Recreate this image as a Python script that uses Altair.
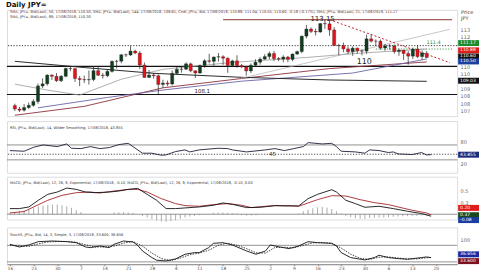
import altair as alt
import pandas as pd

# ---------------- data ----------------
week_labels = ["16", "23", "30", "7", "14", "21", "28", "4", "11", "18",
               "25", "2", "9", "16", "23", "30", "6", "13", "20"]

opens = [107.35, 107.12, 107.04, 107.22, 107.37, 107.63, 108.68, 108.82, 109.41, 109.33,
         109.03, 109.33, 109.86, 109.85, 109.18, 109.11, 109.09, 109.11, 109.71, 109.40,
         109.37, 109.66, 110.34, 110.35, 110.78, 110.77, 111.03, 110.90, 110.09, 109.25,
         109.42, 109.37, 108.78, 108.87, 108.81, 109.53, 109.80, 109.81, 110.17, 109.70,
         109.55, 110.06, 110.38, 110.34, 110.63, 110.65, 110.55, 110.06, 110.37, 110.05,
         109.97, 109.69, 110.08, 110.28, 110.49, 110.66, 110.87, 110.52, 110.49, 110.63,
         110.47, 110.83, 111.00, 112.04, 112.52, 112.36, 112.32, 112.89, 112.87, 112.46,
         111.41, 111.40, 111.18, 110.99, 111.23, 111.05, 111.03, 111.86, 111.70, 111.70,
         111.24, 111.38, 111.38, 111.00, 111.09, 110.87, 110.69, 111.17, 110.66, 110.88]
highs = [107.48, 107.27, 107.45, 107.56, 107.78, 108.84, 109.19, 109.47, 109.47, 109.55,
         109.42, 109.91, 110.03, 109.87, 109.35, 109.38, 109.72, 110.02, 110.00, 109.56,
         109.78, 110.40, 110.44, 110.84, 110.86, 111.40, 111.13, 111.03, 110.26, 109.76,
         109.56, 109.46, 109.10, 109.04, 109.73, 109.98, 109.97, 110.27, 110.25, 109.73,
         110.13, 110.48, 110.85, 110.67, 110.90, 110.75, 110.60, 110.45, 110.75, 110.17,
         110.00, 110.20, 110.48, 110.62, 110.82, 111.00, 111.05, 110.63, 110.75, 110.70,
         110.87, 111.06, 112.08, 112.80, 112.63, 112.55, 112.92, 113.13, 113.15, 112.65,
         111.52, 111.61, 111.35, 111.35, 111.27, 111.14, 112.15, 112.15, 111.82, 111.81,
         111.52, 111.50, 111.47, 111.20, 111.12, 111.04, 111.27, 111.43, 111.08, 111.04]
lows = [106.98, 106.92, 106.95, 107.12, 107.27, 107.47, 108.53, 108.70, 109.08, 108.95,
        108.94, 109.26, 109.67, 108.95, 108.66, 108.88, 108.77, 109.00, 109.35, 109.17,
        109.27, 109.58, 109.86, 110.21, 110.63, 110.70, 110.82, 109.82, 109.25, 109.22,
        109.17, 108.11, 108.55, 108.66, 108.71, 109.46, 109.57, 109.75, 109.60, 109.20,
        109.50, 109.90, 110.20, 109.99, 110.32, 110.10, 109.56, 110.02, 109.90, 109.88,
        109.37, 109.55, 109.98, 110.11, 110.44, 110.48, 110.35, 110.35, 110.27, 110.28,
        110.35, 110.78, 110.88, 111.89, 112.25, 112.08, 112.26, 112.53, 112.06, 111.37,
        110.75, 110.95, 110.84, 110.71, 110.87, 110.75, 110.85, 111.62, 111.38, 111.13,
        111.05, 111.12, 110.86, 110.72, 110.43, 110.11, 110.49, 110.56, 110.45, 110.55]
closes = [107.12, 107.04, 107.22, 107.37, 107.63, 108.68, 108.82, 109.41, 109.33, 109.03,
          109.33, 109.86, 109.85, 109.18, 109.11, 109.09, 109.11, 109.71, 109.40, 109.37,
          109.66, 110.34, 110.35, 110.78, 110.77, 111.03, 110.90, 110.09, 109.25, 109.42,
          109.37, 108.78, 108.87, 108.81, 109.53, 109.80, 109.81, 110.17, 109.70, 109.55,
          110.06, 110.38, 110.34, 110.63, 110.65, 110.55, 110.06, 110.37, 110.05, 109.97,
          109.69, 110.08, 110.28, 110.49, 110.66, 110.87, 110.52, 110.49, 110.63, 110.47,
          110.83, 111.00, 112.04, 112.52, 112.36, 112.32, 112.89, 112.87, 112.46, 111.41,
          111.40, 111.18, 110.99, 111.23, 111.05, 111.03, 111.86, 111.70, 111.70, 111.24,
          111.38, 111.38, 111.00, 111.09, 110.87, 110.69, 111.17, 110.66, 110.91, 110.60]

# moving averages (sparse readings: candle index, price)
ma_black_i = [0, 15, 30, 49, 68, 89]
ma_black_p = [110.34, 109.92, 109.53, 109.26, 109.08, 108.99]
ma_gray_i = [0, 7, 14, 23, 32, 47, 63, 75, 89]
ma_gray_p = [108.80, 108.40, 108.06, 109.13, 109.80, 110.27, 110.60, 110.90, 111.17]
ma_maroon_i = [0, 15, 32, 49, 68, 89]
ma_maroon_p = [106.70, 107.30, 108.55, 109.18, 109.85, 110.30]
ma_purple_i = [5, 20, 32, 49, 73, 89]
ma_purple_p = [107.20, 107.90, 108.40, 109.00, 109.55, 110.50]
trend_gray_i = [49, 94]
trend_gray_p = [109.20, 112.50]
trend_red_i = [68, 94]
trend_red_p = [113.15, 110.25]

levels_full = [110.0, 108.1]
level_dotted = 111.4
level_top = 113.15
level_green = 111.17

# RSI (index, value)
rsi_i = [0, 3, 5, 7, 10, 12, 13, 15, 17, 19, 21, 23, 25, 26, 28, 30, 32, 33, 35, 37, 38, 40,
         44, 46, 47, 50, 54, 56, 58, 60, 62, 63, 66, 68, 69, 70, 73, 75, 76, 78, 80, 81, 82,
         85, 87, 88, 89]
rsi_v = [54.9, 53.1, 63.8, 70.0, 65.6, 72.7, 61.1, 60.2, 65.6, 60.2, 62.9, 70.9, 74.4, 65.6,
         47.8, 47.8, 42.4, 43.3, 52.2, 56.7, 51.3, 56.7, 61.1, 60.2, 56.7, 51.3, 56.7, 60.2,
         54.9, 60.2, 65.6, 76.2, 72.7, 74.4, 65.6, 53.1, 51.3, 47.8, 56.7, 54.9, 49.6, 51.3,
         46.0, 44.2, 49.6, 43.3, 43.9]

# MACD
macd_i = [0, 2, 4, 6, 8, 10, 12, 14, 16, 18, 21, 23, 25, 27, 29, 31, 33, 35, 37, 40, 43, 45,
          47, 50, 53, 56, 58, 61, 63, 65, 68, 69, 71, 73, 75, 78, 81, 84, 87, 89]
macd_v = [0.119, 0.119, 0.154, 0.294, 0.420, 0.469, 0.553, 0.525, 0.469, 0.455, 0.469, 0.490,
          0.525, 0.546, 0.420, 0.294, 0.119, 0.119, 0.133, 0.154, 0.189, 0.238, 0.210, 0.140,
          0.147, 0.182, 0.175, 0.175, 0.329, 0.420, 0.518, 0.469, 0.294, 0.224, 0.147, 0.168,
          0.119, 0.063, 0.014, -0.042]
sig_i = [0, 3, 5, 8, 11, 14, 17, 19, 22, 25, 27, 29, 32, 35, 37, 40, 43, 46, 49, 51, 54, 56,
         59, 61, 63, 65, 68, 71, 74, 77, 80, 82, 85, 88, 89]
sig_v = [0.028, 0.056, 0.154, 0.294, 0.399, 0.455, 0.469, 0.448, 0.490, 0.525, 0.525, 0.469,
         0.329, 0.224, 0.182, 0.168, 0.203, 0.224, 0.189, 0.140, 0.168, 0.182, 0.182, 0.168,
         0.238, 0.308, 0.392, 0.385, 0.308, 0.245, 0.203, 0.154, 0.084, 0.028, -0.014]
hist_v = [0.028, 0.049, 0.070, 0.084, 0.105, 0.140, 0.161, 0.182, 0.196, 0.203,
          0.203, 0.189, 0.168, 0.133, 0.084, 0.042, 0.0, 0.0, 0.0, 0.0,
          0.0, 0.0, 0.035, 0.042, 0.042, 0.035, 0.028, 0.0, -0.042, -0.070,
          -0.105, -0.133, -0.154, -0.161, -0.147, -0.126, -0.098, -0.070, -0.049, -0.035,
          -0.021, -0.007, -0.007, 0.028, 0.035, 0.035, 0.028, 0.021, 0.014, -0.021,
          -0.028, -0.028, -0.021, 0.0, 0.0, 0.0, 0.0, 0.0, 0.0, 0.0,
          0.0, 0.014, 0.063, 0.098, 0.126, 0.147, 0.154, 0.140, 0.112, 0.063,
          0.014, -0.035, -0.063, -0.084, -0.098, -0.098, -0.084, -0.077, -0.070, -0.070,
          -0.063, -0.056, -0.049, -0.042, -0.042, -0.035, -0.035, -0.028, -0.021, -0.014]

# Stochastic
k_i = [0, 2, 4, 6, 9, 12, 14, 16, 17, 19, 21, 22, 24, 26, 27, 28, 30, 31, 33, 35, 37, 39, 40,
       42, 43, 45, 47, 50, 52, 54, 55, 57, 59, 61, 63, 65, 68, 69, 70, 72, 75, 77, 78, 80, 82,
       84, 87, 88, 89]
k_v = [83.6, 74.0, 81.2, 93.2, 95.6, 93.2, 89.6, 74.0, 71.6, 77.6, 71.6, 83.6, 95.6, 92.0,
       80.0, 59.6, 35.6, 26.0, 23.6, 30.8, 47.6, 53.6, 53.6, 71.6, 87.2, 89.6, 81.2, 59.6,
       47.6, 59.6, 81.2, 74.0, 68.0, 77.6, 93.2, 89.6, 87.2, 77.6, 53.6, 35.6, 27.2, 35.6,
       44.0, 35.6, 32.0, 29.6, 35.6, 38.0, 35.6]
d_i = [0, 2, 4, 6, 8, 10, 12, 14, 16, 18, 20, 22, 24, 26, 28, 30, 32, 34, 36, 38, 40, 42, 44,
       46, 48, 50, 52, 54, 56, 58, 60, 62, 64, 66, 68, 70, 72, 74, 76, 78, 80, 82, 84, 86, 88, 89]
d_v = [80, 78, 76, 85, 92, 94, 94, 91, 82, 74, 74, 77, 88, 94, 77, 52, 32, 25, 34, 46, 52, 62,
       80, 88, 80, 68, 53, 52, 72, 73, 71, 80, 89, 90, 87, 70, 48, 33, 29, 37, 38, 34, 31, 31,
       35, 36]

# ---------------- layout constants ----------------
W = 453
XDOM = [-0.63, 94.5]
FONT = "DejaVu Sans"
XS = alt.Scale(domain=XDOM, nice=False, zero=False)


def right_axis(values, fmt="~f"):
    return alt.Axis(orient="right", values=values, format=fmt, labelFontSize=5,
                    labelColor="#666", ticks=False, domain=False, grid=False, title=None,
                    labelPadding=3, labelFont=FONT)


def series(iv, pv):
    return pd.DataFrame({"i": iv, "p": pv})


def label(text, x, y, size=4.5, color="#333", baseline="middle"):
    return alt.Chart(pd.DataFrame({"t": [text]})).mark_text(
        align="left", baseline=baseline, fontSize=size, font=FONT, color=color).encode(
        x=alt.value(x), y=alt.value(y), text="t:N")


class Panel:
    """Shared x / y encodings for one stacked panel."""

    def __init__(self, ydom, height, yticks, fmt="~f", xaxis=None):
        self.Y = alt.Scale(domain=ydom, nice=False, zero=False)
        self.unit = (ydom[1] - ydom[0]) / float(height)
        self.yaxis = right_axis(yticks, fmt)
        self.xaxis = xaxis
        self.height = height

    def x(self, f="i:Q"):
        return alt.X(f, scale=XS, axis=self.xaxis)

    def y(self, f):
        return alt.Y(f, scale=self.Y, axis=self.yaxis)

    def hline(self, values, color, width=0.8, dash=None):
        kw = dict(color=color, strokeWidth=width)
        if dash:
            kw["strokeDash"] = dash
        return alt.Chart(pd.DataFrame({"p": values})).mark_rule(**kw).encode(y=self.y("p:Q"))

    def line(self, iv, pv, color, width=0.9, dash=None):
        kw = dict(color=color, strokeWidth=width)
        if dash:
            kw["strokeDash"] = dash
        return alt.Chart(series(iv, pv)).mark_line(**kw).encode(x=self.x(), y=self.y("p:Q"))

    def text(self, i, p, t, size, color="#222", baseline="bottom", dy=-0.5):
        return alt.Chart(pd.DataFrame({"i": [i], "p": [p], "t": [t]})).mark_text(
            font=FONT, color=color, baseline=baseline, dy=dy, align="center",
            fontSize=size).encode(x=self.x(), y=self.y("p:Q"), text="t:N")

    def box(self, value, text, color, shift, tcolor="white"):
        u = self.unit
        d = pd.DataFrame({"v": [value], "t": [text]})
        base = alt.Chart(d).transform_calculate(
            c="datum.v - %f" % (shift * u),
            lo="datum.v - %f" % ((shift + 3) * u),
            hi="datum.v - %f" % ((shift - 3) * u))
        r = base.mark_rect(color=color).encode(
            x=alt.value(W + 1), x2=alt.value(W + 22), y=self.y("lo:Q"), y2="hi:Q")
        t = base.mark_text(fontSize=4.5, font=FONT, color=tcolor, align="left",
                           baseline="middle").encode(
            x=alt.value(W + 3), y=self.y("c:Q"), text="t:N")
        return [r, t]


# ---------------- main panel ----------------
P = Panel([106.64, 113.82], 107,
          [107, 107.5, 108, 108.5, 109.5, 110, 112, 112.5])
cdf = pd.DataFrame({"i": list(range(len(closes))), "o": opens, "h": highs, "l": lows,
                    "c": closes})

hl_top = alt.Chart(pd.DataFrame({"i": [45], "i2": [94.5], "p": [level_top]})).mark_rule(
    color="#7a1a1a", strokeWidth=0.9).encode(x=P.x(), x2="i2:Q", y=P.y("p:Q"))
hl_green = alt.Chart(pd.DataFrame({"i": [78], "i2": [94.5], "p": [level_green]})).mark_rule(
    color="#2e8b3a", strokeWidth=0.9, strokeDash=[1.2, 1.6]).encode(
    x=P.x(), x2="i2:Q", y=P.y("p:Q"))

wick = alt.Chart(cdf).mark_rule(color="#222", strokeWidth=0.7).encode(
    x=P.x(), y=P.y("l:Q"), y2="h:Q")
body = alt.Chart(cdf).mark_bar(size=3.2, stroke="#1a1a1a", strokeWidth=0.3).encode(
    x=P.x(), y=P.y("o:Q"), y2="c:Q",
    color=alt.condition(alt.datum.c >= alt.datum.o, alt.value("#123d1f"), alt.value("#e3121b")))

main_layers = [
    P.hline(levels_full, "#111", 1.1),
    P.hline([level_dotted], "#222", 0.9, [1.2, 1.6]),
    hl_top, hl_green,
    P.line(ma_maroon_i, ma_maroon_p, "#8b2f3a"),
    P.line(ma_purple_i, ma_purple_p, "#6b63a8"),
    P.line(ma_gray_i, ma_gray_p, "#9a9a9a", 0.8),
    P.line(ma_black_i, ma_black_p, "#2a2a2a", 1.0),
    P.line(trend_gray_i, trend_gray_p, "#b0b0b0", 0.7),
    P.line(trend_red_i, trend_red_p, "#c0282c", 1.0, [2, 2]),
    wick, body,
    P.text(66.5, 113.15, "113.15", 7, baseline="middle", dy=-1),
    P.text(75.5, 110.0, "110", 8),
    P.text(40.5, 108.1, "108.1", 5.5),
    P.text(90.5, 111.4, "111.4", 5, "#2e8b3a"),
    label("SMA, JPY=, Bid(Last), 50, 17/08/2018, 110.50, SMA, JPY=, Bid(Last), 144, 17/08/2018, "
          "109.61, Cndl, JPY=, Bid, 17/08/2018, 110.88, 111.04, 110.55, 110.60, -0.18 (-0.17%), "
          "SMA, JPY=, Bid(Last), 21, 17/08/2018, 111.17", 3, 2.5, 3.6, "#5a2a2a"),
    label("SMA, JPY=, Bid(Last), 89, 17/08/2018, 110.30", 3, 7.5, 3.6, "#333"),
    label("Price", W + 4, 0.5, 5, "#333", "top"),
    label("JPY", W + 4, 6, 5, "#333", "top"),
]
main_layers += P.box(111.17, "111.17", "#1e8a2e", -6)
main_layers += P.box(110.88, "110.88", "#e01b1b", -3)
main_layers += P.box(110.60, "110.60", "#111111", -1)
main_layers += P.box(110.50, "110.50", "#1b3f9e", 2.5)
main_layers += P.box(109.03, "109.03", "#111111", 0)
main = alt.layer(*main_layers).properties(width=W, height=P.height)

# ---------------- RSI panel ----------------
R = Panel([-4.67, 134], 52, [20, 80])
rsi_layers = [
    R.hline([70, 30], "#777"),
    R.hline([45], "#222", 0.8, [1.2, 1.6]),
    R.line(rsi_i, rsi_v, "#1c1c3a"),
    R.text(55.5, 45, "45", 5.5, "#333", "middle"),
    label("RSI, JPY=, Bid(Last), 14, Wilder Smoothing, 17/08/2018, 43.855", 3, 7, 3.6),
]
rsi_layers += R.box(43.855, "43.855", "#1b2a7a", 0)
rsi = alt.layer(*rsi_layers).properties(width=W, height=R.height)

# ---------------- MACD panel ----------------
M = Panel([-0.111, 0.792], 43, [0.25, 0.5])
hdf = pd.DataFrame({"i": list(range(len(hist_v))), "v": hist_v, "z": [0.0] * len(hist_v)})
m_hist = alt.Chart(hdf).mark_rule(color="#777", strokeWidth=0.6).encode(
    x=M.x(), y=M.y("z:Q"), y2="v:Q")
macd_layers = [
    M.hline([0.0], "#777"),
    m_hist,
    M.line(sig_i, sig_v, "#a3262c"),
    M.line(macd_i, macd_v, "#111"),
    label("MACD, JPY=, Bid(Last), 12, 26, 9, Exponential, 17/08/2018, -0.10, MACD, "
          "JPY=, Bid(Last), 12, 26, 9, Exponential, 17/08/2018, -0.10, 0.00", 3, 6, 3.6),
]
macd_layers += M.box(0.05, "0.20", "#e01b1b", -4)
macd_layers += M.box(0.0, "0.37", "#1d4a1d", 1)
macd_layers += M.box(-0.04, "-0.08", "#1b3f9e", 4)
macd = alt.layer(*macd_layers).properties(width=W, height=M.height)

# ---------------- Stochastic panel ----------------
day_idx = [5 * k for k in range(len(week_labels))]
lab_expr = "[" + ",".join("'%s'" % s for s in week_labels) + "][round(datum.value / 5)]"
xaxis = alt.Axis(values=day_idx, labelExpr=lab_expr, labelFontSize=4.5, labelColor="#555",
                 tickSize=1.5, tickColor="#888", domainColor="#888", grid=False, title=None,
                 labelPadding=0, labelFont=FONT, labelBaseline="top")
S = Panel([11.7, 144.7], 37, [100], xaxis=xaxis)
stoch_layers = [
    S.hline([80, 20], "#777"),
    S.line(d_i, d_v, "#111", 0.8, [1.5, 1.2]),
    S.line(k_i, k_v, "#111"),
    label("StochS, JPY=, Bid, 14, 3, Simple, 3, 17/08/2018, 33.600, 36.656", 3, 8, 3.6),
]
stoch_layers += S.box(36.656, "36.656", "#1b2a9e", -3)
stoch_layers += S.box(33.6, "33.600", "#7a1020", 3)
stoch = alt.layer(*stoch_layers).properties(width=W, height=S.height)

chart = alt.vconcat(main, rsi, macd, stoch, spacing=2).properties(
    title=alt.TitleParams("Daily JPY=", anchor="start", fontSize=7, fontWeight="bold",
                          font=FONT, color="#111", offset=1),
    padding={"left": 5, "top": 0, "right": 0, "bottom": 0},
).configure_view(stroke="#9a9a9a", strokeWidth=0.8).configure(background="white")

chart.save("out.html", embed_options={"renderer": "svg", "actions": False})
